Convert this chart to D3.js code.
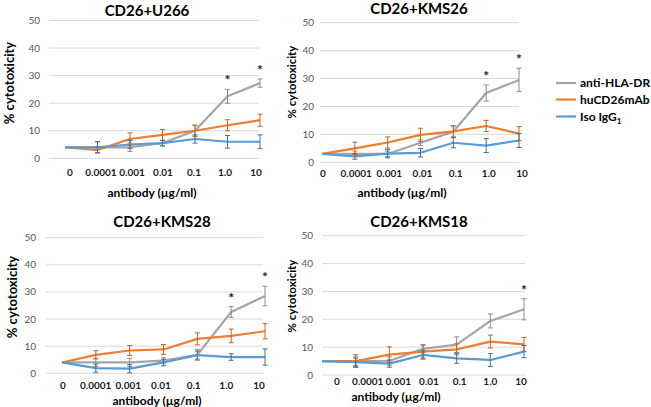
<!DOCTYPE html>
<html><head><meta charset="utf-8">
<script src="https://cdn.jsdelivr.net/npm/d3@7/dist/d3.min.js"></script>
<style>body{margin:0;background:#fff}svg{display:block}</style>
</head><body>
<svg id="c" width="651" height="407"></svg>
<script>
// ---- data ----
const doses = ["0","0.0001","0.001","0.01","0.1","1.0","10"];
const yTicks = [0,10,20,30,40,50];
const seriesNames = ["anti-HLA-DR","huCD26mAb","Iso IgG"];
const panelTitles = ["CD26+U266","CD26+KMS26","CD26+KMS28","CD26+KMS18"];

const u266Hla    = [4, 4, 4, 5.5, 10, 22.5, 27.3];
const u266HlaErr = [0, 2, 1.5, 1, 2, 2.5, 1.5];
const u266Hu     = [4, 3, 7, 8.5, 10, 12, 13.8];
const u266HuErr  = [0, 1, 2.2, 2, 2, 2, 2.2];
const u266Iso    = [4, 4, 5, 5.5, 7, 6, 6];
const u266IsoErr = [0, 2, 1.5, 1, 1.5, 2.3, 2.5];
const u266Stars  = ["1.0","10"];

const kms26Hla    = [3, 3, 3, 7, 11, 24.8, 29.5];
const kms26HlaErr = [0, 1, 1, 1, 2, 2.9, 4.2];
const kms26Hu     = [3, 5, 7.1, 9.8, 11.1, 13, 10.3];
const kms26HuErr  = [0, 2.2, 2, 2.4, 2, 2, 2.5];
const kms26Iso    = [3, 2.1, 3.1, 3.4, 7, 6, 7.8];
const kms26IsoErr = [0, 1, 1.5, 1.5, 1.8, 2.5, 2.5];
const kms26Stars  = ["1.0","10"];

const kms28Hla    = [4, 4, 4, 4.7, 6.8, 22.6, 28.5];
const kms28HlaErr = [0, 1.5, 1.5, 1, 2, 2, 3.6];
const kms28Hu     = [4, 6.8, 8.4, 8.8, 12.7, 13.8, 15.5];
const kms28HuErr  = [0, 1.5, 1.8, 1.8, 2.2, 2.5, 2.8];
const kms28Iso    = [4, 1.9, 1.7, 4, 6.7, 6, 6];
const kms28IsoErr = [0, 1.5, 1.5, 1.2, 1.5, 1.2, 3];
const kms28Stars  = ["1.0","10"];

const kms18Hla    = [5, 5, 5, 9.4, 10.9, 19.4, 23.6];
const kms18HlaErr = [0, 1.5, 1.5, 1.5, 2.8, 2.5, 3.8];
const kms18Hu     = [5, 5, 7.3, 8.4, 9.2, 12, 11];
const kms18HuErr  = [0, 2.3, 2.8, 2.3, 2, 2.3, 2.5];
const kms18Iso    = [5, 4.6, 4.1, 7.2, 6, 5.4, 8.4];
const kms18IsoErr = [0, 1.5, 1.3, 1.5, 1.8, 2.3, 2.2];
const kms18Stars  = ["10"];

// ---- styles / layout ----
const colors = ["#a5a5a5","#ed7d31","#5b9bd5"];
const errColors = ["#8c8c8c","#c5651f","#41719c"];
const FONT = "Lato, 'Open Sans', 'DejaVu Sans', sans-serif";

const layout = [
  {pts:[65,260], lab:[70,256], grid:[49,259], y0:158.3, y50:20.5, ytx:40, title:[147,16], yt:[9,83,13], xt:[152,197], xl:176},
  {pts:[322,519], lab:[323,522], grid:[320,519], y0:162.3, y50:22.7, ytx:314, title:[419,14], yt:[292,82,11.5], xt:[402,197], xl:177},
  {pts:[62,265], lab:[63,259], grid:[46,263], y0:373.3, y50:237.7, ytx:36, title:[162,227], yt:[12,297,13], xt:[157,405], xl:389},
  {pts:[322,524], lab:[337,521], grid:[322,525], y0:375, y50:235.7, ytx:313, title:[419,227], yt:[292,296,11.5], xt:[396,401], xl:385}
];

const panels = [
  {vals:[u266Hla,u266Hu,u266Iso], errs:[u266HlaErr,u266HuErr,u266IsoErr], stars:u266Stars},
  {vals:[kms26Hla,kms26Hu,kms26Iso], errs:[kms26HlaErr,kms26HuErr,kms26IsoErr], stars:kms26Stars},
  {vals:[kms28Hla,kms28Hu,kms28Iso], errs:[kms28HlaErr,kms28HuErr,kms28IsoErr], stars:kms28Stars},
  {vals:[kms18Hla,kms18Hu,kms18Iso], errs:[kms18HlaErr,kms18HuErr,kms18IsoErr], stars:kms18Stars}
];

const svg = d3.select("#c");

panels.forEach((p, pi) => {
  const L = layout[pi];
  const g = svg.append("g");
  const x = d3.scalePoint().domain(doses).range(L.pts);
  const xl = d3.scalePoint().domain(doses).range(L.lab);
  const y = d3.scaleLinear().domain([0,50]).range([L.y0, L.y50]);

  g.selectAll(".grid").data(yTicks).join("line")
    .attr("x1", L.grid[0]).attr("x2", L.grid[1])
    .attr("y1", d => y(d)).attr("y2", d => y(d))
    .attr("stroke", "#d9d9d9").attr("stroke-width", 1);

  g.selectAll(".yl").data(yTicks).join("text")
    .attr("x", L.ytx).attr("y", d => y(d)).attr("dy", "0.35em")
    .attr("text-anchor", "end").attr("font-family", FONT).attr("font-size", 10)
    .attr("fill", "#595959").text(d => d);

  g.selectAll(".xl").data(doses).join("text")
    .attr("x", d => xl(d)).attr("y", L.xl).attr("text-anchor", "middle")
    .attr("font-family", FONT).attr("font-size", 10).attr("font-weight", "bold")
    .attr("fill", "#1a1a1a").text(d => d);

  g.append("text").attr("x", L.title[0]).attr("y", L.title[1]).attr("text-anchor", "middle")
    .attr("font-family", FONT).attr("font-size", 15).attr("font-weight", "bold")
    .attr("fill", "#000").text(panelTitles[pi]);
  g.append("text").attr("transform", `translate(${L.yt[0]},${L.yt[1]}) rotate(-90)`)
    .attr("text-anchor", "middle").attr("dy", "0.35em")
    .attr("font-family", FONT).attr("font-size", L.yt[2]).attr("font-weight", "bold")
    .attr("fill", "#000").text("% cytotoxicity");
  g.append("text").attr("x", L.xt[0]).attr("y", L.xt[1]).attr("text-anchor", "middle")
    .attr("font-family", FONT).attr("font-size", 12).attr("font-weight", "bold")
    .attr("fill", "#000").text("antibody (µg/ml)");

  const line = d3.line().x((d,i) => x(doses[i])).y(d => y(d));
  p.vals.forEach((v, si) => {
    g.append("path").attr("d", line(v)).attr("fill", "none")
      .attr("stroke", colors[si]).attr("stroke-width", 2.2).attr("stroke-linejoin", "round");
  });
  p.vals.forEach((v, si) => {
    const eb = g.append("g").attr("stroke", errColors[si]).attr("stroke-width", 1);
    v.forEach((val, i) => {
      const e = p.errs[si][i];
      if (!e) return;
      const cx = x(doses[i]);
      eb.append("line").attr("x1", cx).attr("x2", cx).attr("y1", y(val - e)).attr("y2", y(val + e));
      eb.append("line").attr("x1", cx - 2.5).attr("x2", cx + 2.5).attr("y1", y(val + e)).attr("y2", y(val + e));
      eb.append("line").attr("x1", cx - 2.5).attr("x2", cx + 2.5).attr("y1", y(val - e)).attr("y2", y(val - e));
    });
  });
  g.selectAll(".star").data(p.stars).join("text")
    .attr("x", d => x(d)).attr("y", d => {
      const i = doses.indexOf(d);
      return y(p.vals[0][i] + p.errs[0][i]) - 4;
    })
    .attr("text-anchor", "middle").attr("font-family", FONT).attr("font-size", 14)
    .attr("font-weight", "bold").attr("fill", "#222").text("*");
});

const legY = [83, 99.5, 116.5];
const leg = svg.append("g");
seriesNames.forEach((n, i) => {
  leg.append("line").attr("x1", 556).attr("x2", 576).attr("y1", legY[i]).attr("y2", legY[i])
    .attr("stroke", colors[i]).attr("stroke-width", 2.2);
  const t = leg.append("text").attr("x", 580).attr("y", legY[i]).attr("dy", "0.35em")
    .attr("font-family", FONT).attr("font-size", 12).attr("font-weight", "bold").attr("fill", "#000").text(n);
  if (i === 2) t.append("tspan").attr("font-size", 8).attr("dy", "0.35em").text("1");
});
</script>
</body></html>
